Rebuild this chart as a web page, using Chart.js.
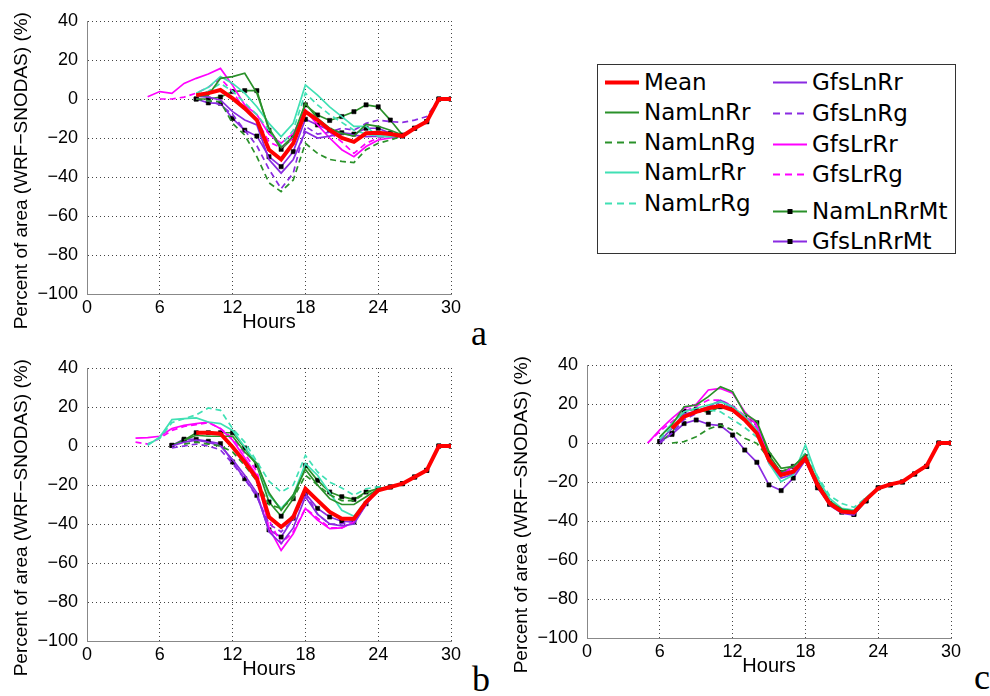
<!DOCTYPE html>
<html><head><meta charset="utf-8">
<script src="https://cdn.jsdelivr.net/npm/chart.js@4.4.1/dist/chart.umd.min.js"></script>
<style>
html,body{margin:0;padding:0;background:#fff;width:990px;height:696px;overflow:hidden;}
.panel{position:absolute;width:470px;height:340px;}
.letter{position:absolute;font-family:"Liberation Serif","Times New Roman",serif;font-size:36px;line-height:36px;color:#000;}
#legend{position:absolute;left:597px;top:64px;width:357px;height:188px;border:1px solid #333;background:#fff;font-family:"DejaVu Sans",sans-serif;font-size:23px;color:#000;}
.item{position:absolute;height:30px;display:flex;align-items:center;white-space:nowrap;}
.item svg{display:block;margin-right:5px;}
</style></head>
<body>
<div class="panel" style="left:0;top:0"><canvas id="ca" width="470" height="340"></canvas></div>
<div class="panel" style="left:0;top:347px"><canvas id="cb" width="470" height="340"></canvas></div>
<div class="panel" style="left:500px;top:344px"><canvas id="cc" width="470" height="340"></canvas></div>
<div class="letter" style="left:471px;top:315px">a</div>
<div class="letter" style="left:472px;top:661px">b</div>
<div class="letter" style="left:974px;top:659px">c</div>
<div id="legend"></div>
<script>
const _ = null;
const hours = [0,1,2,3,4,5,6,7,8,9,10,11,12,13,14,15,16,17,18,19,20,21,22,23,24,25,26,27,28,29,30];
const seriesNames = ['Mean','NamLnRr','NamLnRg','NamLrRr','NamLrRg','GfsLnRr','GfsLnRg','GfsLrRr','GfsLrRg','NamLnRrMt','GfsLnRrMt'];
const yTicks = [-100,-80,-60,-40,-20,0,20,40];
const xTicks = [0,6,12,18,24,30];

// ---- panel a ----
const A_Mean      = [_,_,_,_,_,_,_,_,_,2,3,4.6,0.3,-4.8,-10.8,-26,-31,-22.7,-6.5,-10.8,-15.9,-20,-22,-17.6,-17.3,-18,-19,-15,-11.6,0,0];
const A_NamLnRr   = [_,_,_,_,_,_,_,_,_,1.5,2,10.6,11.5,13.2,3,-15,-25,-19,-2.2,-10,-15,-17.6,-19,-13,-14,-16,-18.5,-15,-11.6,0,0];
const A_NamLnRg   = [_,_,_,_,_,_,_,_,_,0,-1,-1.4,-12.5,-18.5,-29.6,-43,-47.5,-41.5,-22.7,-27.9,-31,-32,-32.6,-26,-22.7,-21,-19,-15,-11.6,0,0];
const A_NamLrRr   = [_,_,_,_,_,_,_,_,_,3,6,11.5,8,3,-4,-12.5,-19.3,-12.5,7.2,2,-4,-9,-14,-14,-19.3,-19.3,-19,-15,-11.6,0,0];
const A_NamLrRg   = [_,_,_,_,_,_,_,_,_,2,4,8,4,-2,-8,-16,-24,-16,3,-3,-8,-12,-16,-18,-19,-19,-19,-15,-11.6,0,0];
const A_GfsLnRr   = [_,_,_,_,_,_,_,_,_,1.5,1,-0.5,-6.5,-10.8,-13.3,-31,-38,-31,-16.8,-20,-19,-17.6,-18.5,-19.3,-19,-19.3,-19,-15,-11.6,0,0];
const A_GfsLnRg   = [_,_,_,_,_,_,_,_,_,0,-1,-3,-8,-16,-24,-36,-46,-38,-14,-18,-17,-15,-16,-12.5,-10.8,-11.6,-12,-10.8,-9,0,0];
const A_GfsLrRr   = [_,_,_,_,_,1.2,3.8,2.9,8,10.6,12.8,15.7,7,-3,-8,-18,-22.7,-17.6,-5.6,-13.3,-20,-26,-29.6,-24.4,-21,-20,-19,-15,-11.6,0,0];
const A_GfsLrRg   = [_,_,_,_,_,_,0,0,1,3,6,10.6,3.8,-5.6,-10.8,-22,-25,-20,-5.6,-11,-17,-22,-27.9,-22.7,-20,-19,-19,-15,-11.6,0,0];
const A_NamLnRrMt = [_,_,_,_,_,_,_,_,_,0,0,1,3.8,4.3,4.3,-16,-25.8,-19.8,-3,-8.2,-11,-9,-6.5,-3,-4,-10.8,-18.5,-15,-11.6,0,0];
const A_GfsLnRrMt = [_,_,_,_,_,_,_,_,_,0,-2,-2.2,-10,-16,-19,-29.6,-34.7,-27,-10.4,-13.3,-16,-17.3,-18,-15,-15,-17.6,-19,-15,-11.6,0,0];

// ---- panel b ----
const B_Mean      = [_,_,_,_,_,_,_,_,_,6.8,6.8,6.3,-0.5,-8.2,-16.8,-36.4,-41.5,-36.4,-21.9,-27.9,-33.8,-37.3,-37.3,-28.7,-22.7,-21,-19.3,-15.9,-12.5,0,0];
const B_NamLnRr   = [_,_,_,_,_,_,_,_,3,5.5,5,5,5,-3,-9,-24,-33,-25,-12,-20,-27,-30,-30,-26,-22,-21,-19.3,-15.9,-12.5,0,0];
const B_NamLnRg   = [_,_,_,_,_,_,_,_,1,2,1,0,-3,-10,-18,-30,-32,-27,-15,-20,-25,-28,-28,-24,-22,-21,-19.3,-15.9,-12.5,0,0];
const B_NamLrRr   = [_,_,_,_,_,0.3,4.6,13.5,14,14.4,12.3,11.5,8,-0.5,-9,-25.3,-32,-25.3,-9,-15,-24,-33,-36,-28,-22,-21,-19.3,-15.9,-12.5,0,0];
const B_NamLrRg   = [_,_,_,_,_,1,4,12,14,16,19.5,18.3,8.9,2,-8,-18,-23.6,-20,-4.8,-13.3,-18.5,-21.5,-25.3,-21.9,-21,-21,-19.3,-15.9,-12.5,0,0];
const B_GfsLnRr   = [_,_,_,_,_,_,_,0,2,3,2,0,-7,-15,-24,-44,-50,-42,-26,-35,-40,-41,-40,-30,-22,-21,-19.3,-15.9,-12.5,0,0];
const B_GfsLnRg   = [_,_,_,_,_,_,_,-1,0,1,0,-2,-9,-17,-26,-40,-44,-38,-24,-35,-40,-40,-38,-30,-22,-21,-19.3,-15.9,-12.5,0,0];
const B_GfsLrRr   = [_,_,_,_,4,4.3,5,9,10.6,11.5,12.3,8.9,3,-6,-15,-42,-53.5,-45,-32,-38,-42.4,-42,-39,-30,-22,-21,-19.3,-15.9,-12.5,0,0];
const B_GfsLrRg   = [_,_,_,_,2,1,4,8,10,11,12,9,4,-4,-13,-38,-50,-44,-32,-37,-42,-42,-39,-30,-22,-21,-19.3,-15.9,-12.5,0,0];
const B_NamLnRrMt = [_,_,_,_,_,_,_,0.3,3,6.8,6.8,6.8,6.8,-1,-10,-28.7,-36,-27,-10,-17.6,-23.6,-26,-27.4,-23.6,-21.9,-21,-19.3,-15.9,-12.5,0,0];
const B_GfsLnRrMt = [_,_,_,_,_,_,_,0.3,3.5,3.4,2.4,1.2,-8.2,-16.8,-25.3,-43,-46.7,-37,-24.4,-32,-36.4,-38.6,-39,-29.6,-21.9,-21,-19.3,-15.9,-12.5,0,0];

// ---- panel c ----
const C_Mean      = [_,_,_,_,_,_,_,7.5,13.5,16,17.8,19.1,16.9,11.8,5,-8.7,-16.4,-14.7,-7.9,-21.5,-31,-35.2,-35.6,-29,-23.2,-21.2,-19.8,-15.6,-11.6,0,0];
const C_NamLnRr   = [_,_,_,_,_,_,3.2,9.2,18.6,19.5,23.8,28.9,26.3,15.2,11,-4.4,-13,-12,-6,-20,-30,-34,-35,-29,-23,-21.2,-19.8,-15.6,-11.6,0,0];
const C_NamLnRg   = [_,_,_,_,_,_,_,0,0.7,3.2,7.2,9.2,6.7,2.4,-0.2,-7.9,-14.7,-12,-7,-20,-30,-34,-35,-29,-23,-21.2,-19.8,-15.6,-11.6,0,0];
const C_NamLrRr   = [_,_,_,_,_,_,3,10,16,17.8,19.5,21.2,18.6,13.5,6.7,-10.4,-19.8,-16.4,-1,-18,-28.4,-33.5,-34.4,-28,-23,-21.2,-19.8,-15.6,-11.6,0,0];
const C_NamLrRg   = [_,_,_,_,_,_,2,8,14,16,17,16,12,8,3,-9,-17,-14,-5,-17,-27,-31,-33,-28,-23,-21.2,-19.8,-15.6,-11.6,0,0];
const C_GfsLnRr   = [_,_,_,_,_,_,1,7.5,14.7,16.4,18.6,22,18.6,12.6,6.7,-10.4,-18,-16,-9,-22,-32,-36,-37,-29,-23,-21.2,-19.8,-15.6,-11.6,0,0];
const C_GfsLnRg   = [_,_,_,_,_,_,0,5,12,15,18,21,18,13,6,-8,-15,-14,-8,-20,-30,-35,-36,-29,-23,-21.2,-19.8,-15.6,-11.6,0,0];
const C_GfsLrRr   = [_,_,_,_,_,0,6.7,12.6,17.8,19.8,27.2,28,25.5,16,9.2,-8.7,-16.4,-12,-7,-21.5,-31,-35.2,-36,-29,-23,-21.2,-19.8,-15.6,-11.6,0,0];
const C_GfsLrRg   = [_,_,_,_,_,0,6,11,16,19,22,22,19,14,8,-8,-16,-13,-7,-21,-31,-35,-36,-29,-23,-21.2,-19.8,-15.6,-11.6,0,0];
const C_NamLnRrMt = [_,_,_,_,_,_,0.7,5,16.4,17.4,15.7,18.6,17.8,13,10.4,-6.2,-15.2,-12,-7,-21.5,-31,-35,-36.6,-29.7,-23,-21.5,-20,-15.9,-12,0,0];
const C_GfsLnRrMt = [_,_,_,_,_,_,0.7,4.4,10,11.8,9.6,8.9,4.1,-3.6,-9.9,-21.5,-24.4,-18,-8.7,-23,-31.5,-35.5,-36.6,-29.7,-23,-21.5,-20,-15.9,-12,0,0];

// ---- styles (not data) ----
const GREEN = '#2a912a', TEAL = '#40e0b4', PURPLE = '#8a2be2', MAGENTA = '#ff00ff';
const THIN = 1.7;
const STY = [
  {c:'#ff0000', w:4},
  {c:GREEN, w:THIN}, {c:GREEN, w:THIN, d:[6,4]},
  {c:TEAL, w:THIN},  {c:TEAL, w:THIN, d:[6,4]},
  {c:PURPLE, w:THIN},{c:PURPLE, w:THIN, d:[6,4]},
  {c:MAGENTA, w:THIN},{c:MAGENTA, w:THIN, d:[6,4]},
  {c:GREEN, w:THIN, m:true}, {c:PURPLE, w:THIN, m:true}
];

const panels = [
  {id:'ca', s:[A_Mean,A_NamLnRr,A_NamLnRg,A_NamLrRr,A_NamLrRg,A_GfsLnRr,A_GfsLnRg,A_GfsLrRr,A_GfsLrRg,A_NamLnRrMt,A_GfsLnRrMt]},
  {id:'cb', s:[B_Mean,B_NamLnRr,B_NamLnRg,B_NamLrRr,B_NamLrRg,B_GfsLnRr,B_GfsLnRg,B_GfsLrRr,B_GfsLrRg,B_NamLnRrMt,B_GfsLnRrMt]},
  {id:'cc', s:[C_Mean,C_NamLnRr,C_NamLnRg,C_NamLrRr,C_NamLrRg,C_GfsLnRr,C_GfsLnRg,C_GfsLrRr,C_GfsLrRg,C_NamLnRrMt,C_GfsLnRrMt]}
];

const tickFont = {family:'Liberation Sans', size:18};
const minus = v => String(v).replace('-', '\u2212');
// trailing no-break spaces shift the rotated title down, as in the reference
const yTitle = 'Percent of area (WRF\u2212SNODAS) (%)' + '\u00a0\u00a0\u00a0\u00a0\u00a0';

panels.forEach(p => {
  const datasets = p.s.map((arr, i) => {
    const st = STY[i];
    return {
      label: seriesNames[i],
      data: hours.map((h, k) => ({x:h, y:arr[k]})),
      borderColor: st.c,
      backgroundColor: st.c,
      borderWidth: st.w,
      borderDash: st.d || [],
      pointRadius: st.m ? 3 : 0,
      pointStyle: 'rect',
      pointBackgroundColor: '#000',
      pointBorderColor: '#000',
      pointBorderWidth: 0.5,
      spanGaps: false,
      tension: 0,
      fill: false
    };
  });
  new Chart(document.getElementById(p.id), {
    type: 'line',
    data: {datasets},
    options: {
      responsive: false,
      devicePixelRatio: 1,
      animation: false,
      events: [],
      layout: {padding: {top:21, right:19, left:0, bottom:0}},
      plugins: {legend:{display:false}, tooltip:{enabled:false}},
      scales: {
        x: {
          type:'linear', min:0, max:30,
          afterBuildTicks: s => { s.ticks = xTicks.map(v => ({value:v})); },
          ticks: {font:tickFont, color:'#000', padding:3, maxRotation:0, autoSkip:false, callback: v => minus(v)},
          grid: {color:'#444', lineWidth:1, drawTicks:false},
          border: {display:true, color:'#888', width:1, dash:[1,3]},
          title: {display:true, text:'Hours', color:'#000', font:{family:'Liberation Sans', size:20}, padding:{top:0, bottom:6}},
          afterFit: s => { s.height = 46; s.paddingLeft = 0; s.paddingRight = 0; }
        },
        y: {
          type:'linear', min:-100, max:40,
          afterBuildTicks: s => { s.ticks = yTicks.map(v => ({value:v})); },
          ticks: {font:tickFont, color:'#000', padding:9, autoSkip:false, callback: v => minus(v)},
          grid: {color:'#444', lineWidth:1, drawTicks:false},
          border: {display:true, color:'#888', width:1, dash:[1,3]},
          title: {display:true, text:yTitle, color:'#000', font:{family:'Liberation Sans', size:19}, padding:{top:10, bottom:0}},
          afterFit: s => { s.width = 87; s.paddingTop = 0; s.paddingBottom = 0; }
        }
      }
    }
  });
});

// ---- legend (HTML, built from the series names and styles) ----
const legendPos = [
  [7, 17], [7, 47], [7, 77], [7, 107], [7, 138],
  [175, 17], [175, 48], [175, 79], [175, 109], [175, 146], [175, 176]
];
const leg = document.getElementById('legend');
seriesNames.forEach((name, i) => {
  const st = STY[i];
  const [lx, cy] = legendPos[i];
  const it = document.createElement('div');
  it.className = 'item';
  it.style.left = lx + 'px';
  it.style.top = (cy - 15) + 'px';
  const dash = st.d ? ' stroke-dasharray="7,5"' : '';
  const mk = st.m ? '<rect x="14.5" y="3" width="5" height="5" fill="#000"/>' : '';
  it.innerHTML = '<svg width="34" height="11" viewBox="0 0 34 11"><line x1="0" y1="5.5" x2="34" y2="5.5" stroke="' + st.c + '" stroke-width="' + (st.w === 4 ? 4 : 2) + '"' + dash + '/>' + mk + '</svg><span>' + name + '</span>';
  leg.appendChild(it);
});
</script>
</body></html>
